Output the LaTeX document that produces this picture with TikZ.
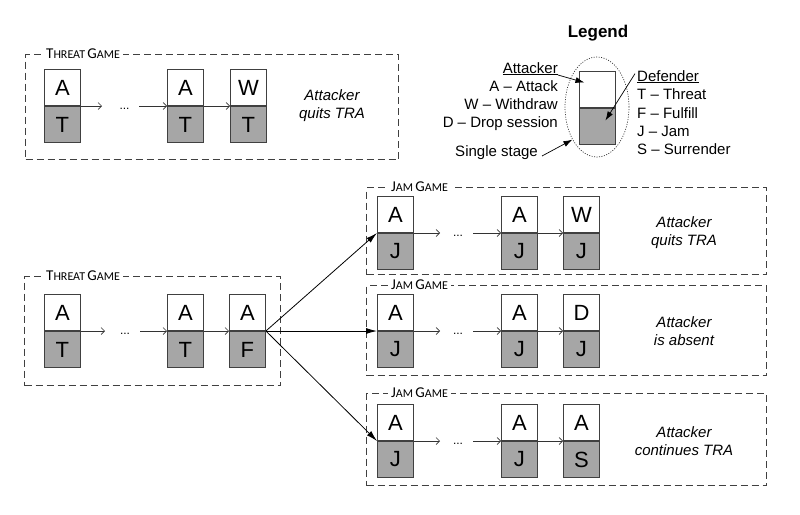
\documentclass[tikz,border=0pt]{standalone}
\usepackage{fontspec}
\setmainfont{Liberation Sans}
\newfontfamily\capfont{Carlito}
\usetikzlibrary{arrows.meta,shapes.geometric,calc}
\definecolor{stagefill}{RGB}{166,166,166}
\definecolor{edgegray}{RGB}{64,64,64}
% small-caps style heading: large initial, smaller capitals
\newcommand\capsword[2]{{\fontsize{15}{15}\selectfont #1}{\fontsize{12}{12}\selectfont #2}}
% one stage: attacker move on top, defender move below, split at (x,y)
\newcommand\stage[5]{%
  \node[stagetop] (#1a) at (#2,#3) {#4};
  \node[stagebot] (#1d) at (#2,#3) {#5};}

\begin{document}
\begin{tikzpicture}[x=1pt,y=-1pt,
  stagebox/.style={draw=edgegray, line width=0.9pt, minimum width=36pt, minimum height=36pt,
    inner sep=0pt, font=\fontsize{22}{22}\selectfont},
  stagetop/.style={stagebox, fill=white, anchor=south west},
  stagebot/.style={stagebox, fill=stagefill, anchor=north west},
  gamebox/.style={draw=edgegray, line width=1pt, dash pattern=on 7pt off 4pt, inner sep=0pt, anchor=north west},
  gamelabel/.style={fill=white, inner xsep=3pt, inner ysep=1pt, anchor=west, font=\capfont},
  ellipsisn/.style={inner sep=0pt, font=\fontsize{12}{12}\selectfont},
  chain/.style={draw=black!80, line width=0.7pt, -{Straight Barb[length=3.5pt,width=7pt]}},
  branch/.style={draw=black, line width=0.8pt, -{Latex[length=11pt,width=6pt]}},
  outcome/.style={align=center, inner sep=0pt, font=\fontsize{15}{18}\selectfont\itshape},
  legtext/.style={font=\fontsize{15}{18}\selectfont, inner sep=0pt},
  pointer/.style={draw=black, line width=0.7pt, -{Latex[length=9pt,width=6pt]}},
]
\useasboundingbox (0,0) rectangle (800,514);

% ---------- Threat game (attacker quits) ----------
\node[gamebox, minimum width=373pt, minimum height=105pt] (tgA) at (25,54) {};
\node[gamelabel] (tgAlbl) at (43,54) {\capsword{T}{HREAT} \capsword{G}{AME}};
\stage{ta1}{44}{106}{A}{T}
\stage{ta2}{167}{106}{A}{T}
\stage{ta3}{230}{106}{W}{T}
\node[ellipsisn] (tadots) at (124.5,109) {...};
\coordinate (ta1out) at (102,106);
\coordinate (ta2in) at (139,106);
\draw[chain] (ta1a.south east) -- (ta1out);
\draw[chain] (ta2in) -- (ta2a.south west);
\draw[chain] (ta2a.south east) -- (ta3a.south west);
\node[outcome] (taout) at (332,106) {Attacker\\quits TRA};

% ---------- Threat game (defender fulfils) ----------
\node[gamebox, minimum width=256pt, minimum height=109pt] (tgB) at (24,276) {};
\node[gamelabel] (tgBlbl) at (43,276) {\capsword{T}{HREAT} \capsword{G}{AME}};
\stage{tb1}{44}{331}{A}{T}
\stage{tb2}{167}{331}{A}{T}
\stage{tb3}{229}{331}{A}{F}
\node[ellipsisn] (tbdots) at (125,334) {...};
\coordinate (tb1out) at (105,331);
\coordinate (tb2in) at (140,331);
\draw[chain] (tb1a.south east) -- (tb1out);
\draw[chain] (tb2in) -- (tb2a.south west);
\draw[chain] (tb2a.south east) -- (tb3a.south west);

% ---------- Jam games ----------
\node[gamebox, minimum width=400pt, minimum height=87pt] (jg1) at (366,187) {};
\node[gamelabel] (jg1lbl) at (388,187) {\capsword{J}{AM} \capsword{G}{AME}};
\stage{ja1}{377}{233}{A}{J}
\stage{ja2}{501}{233}{A}{J}
\stage{ja3}{563}{233}{W}{J}
\node[ellipsisn] (jadots) at (458,236) {...};
\coordinate (ja1out) at (440,233);
\coordinate (ja2in) at (473,233);
\draw[chain] (ja1a.south east) -- (ja1out);
\draw[chain] (ja2in) -- (ja2a.south west);
\draw[chain] (ja2a.south east) -- (ja3a.south west);
\node[outcome] (jaout) at (684,233) {Attacker\\quits TRA};

\node[gamebox, minimum width=400pt, minimum height=90pt] (jg2) at (366,285) {};
\node[gamelabel] (jg2lbl) at (388,285) {\capsword{J}{AM} \capsword{G}{AME}};
\stage{jb1}{377}{331}{A}{J}
\stage{jb2}{501}{331}{A}{J}
\stage{jb3}{563}{331}{D}{J}
\node[ellipsisn] (jbdots) at (458,334) {...};
\coordinate (jb1out) at (440,331);
\coordinate (jb2in) at (473,331);
\draw[chain] (jb1a.south east) -- (jb1out);
\draw[chain] (jb2in) -- (jb2a.south west);
\draw[chain] (jb2a.south east) -- (jb3a.south west);
\node[outcome] (jbout) at (684,331) {Attacker\\is absent};

\node[gamebox, minimum width=400pt, minimum height=92pt] (jg3) at (366,393) {};
\node[gamelabel] (jg3lbl) at (388,393) {\capsword{J}{AM} \capsword{G}{AME}};
\stage{jc1}{377}{441}{A}{J}
\stage{jc2}{501}{441}{A}{J}
\stage{jc3}{563}{441}{A}{S}
\node[ellipsisn] (jcdots) at (458,444) {...};
\coordinate (jc1out) at (440,441);
\coordinate (jc2in) at (473,441);
\draw[chain] (jc1a.south east) -- (jc1out);
\draw[chain] (jc2in) -- (jc2a.south west);
\draw[chain] (jc2a.south east) -- (jc3a.south west);
\node[outcome] (jcout) at (684,441) {Attacker\\continues TRA};

% ---------- Branches out of the fulfilled threat ----------
\draw[branch] (tb3a.south east) -- (ja1a.south west);
\draw[branch] (tb3a.south east) -- (jb1a.south west);
\draw[branch] (tb3a.south east) -- (jc1a.south west);

% ---------- Legend ----------
\node[font=\bfseries\fontsize{17}{17}\selectfont, anchor=base, inner sep=0pt] (legtitle) at (598,37) {Legend};
\node[stagebox, fill=white, anchor=south west] (legA) at (579,108) {};
\node[stagebox, fill=stagefill, anchor=north west] (legD) at (579,108) {};
\node[draw=black!80, line width=0.7pt, dash pattern=on 1pt off 1.5pt, ellipse,
  minimum width=64pt, minimum height=100pt, inner sep=0pt] (legE) at (597,107) {};

\node[legtext, anchor=base east] (lAtt) at (558,73) {\underline{Attacker}};
\node[legtext, anchor=base east] (lA) at (558,91) {A – Attack};
\node[legtext, anchor=base east] (lW) at (558,109) {W – Withdraw};
\node[legtext, anchor=base east] (lDr) at (558,127) {D – Drop session};
\node[legtext, anchor=base east] (lSingle) at (538,156) {Single stage};

\node[legtext, anchor=base west] (lDef) at (637,81) {\underline{Defender}};
\node[legtext, anchor=base west] (lT) at (637,99.5) {T – Threat};
\node[legtext, anchor=base west] (lF) at (637,118) {F – Fulfill};
\node[legtext, anchor=base west] (lJ) at (637,136) {J – Jam};
\node[legtext, anchor=base west] (lS) at (637,154) {S – Surrender};

\draw[pointer] ($(lAtt.base east)+(0,2)$) -- ($(legA.center)+(-13,-7)$);
\draw[pointer] ($(lDef.west)+(-2,-3)$) -- ($(legD.center)+(8,-6)$);
\draw[pointer] ($(lSingle.base east)+(4,0)$) -- (legE.233);
\end{tikzpicture}
\end{document}
